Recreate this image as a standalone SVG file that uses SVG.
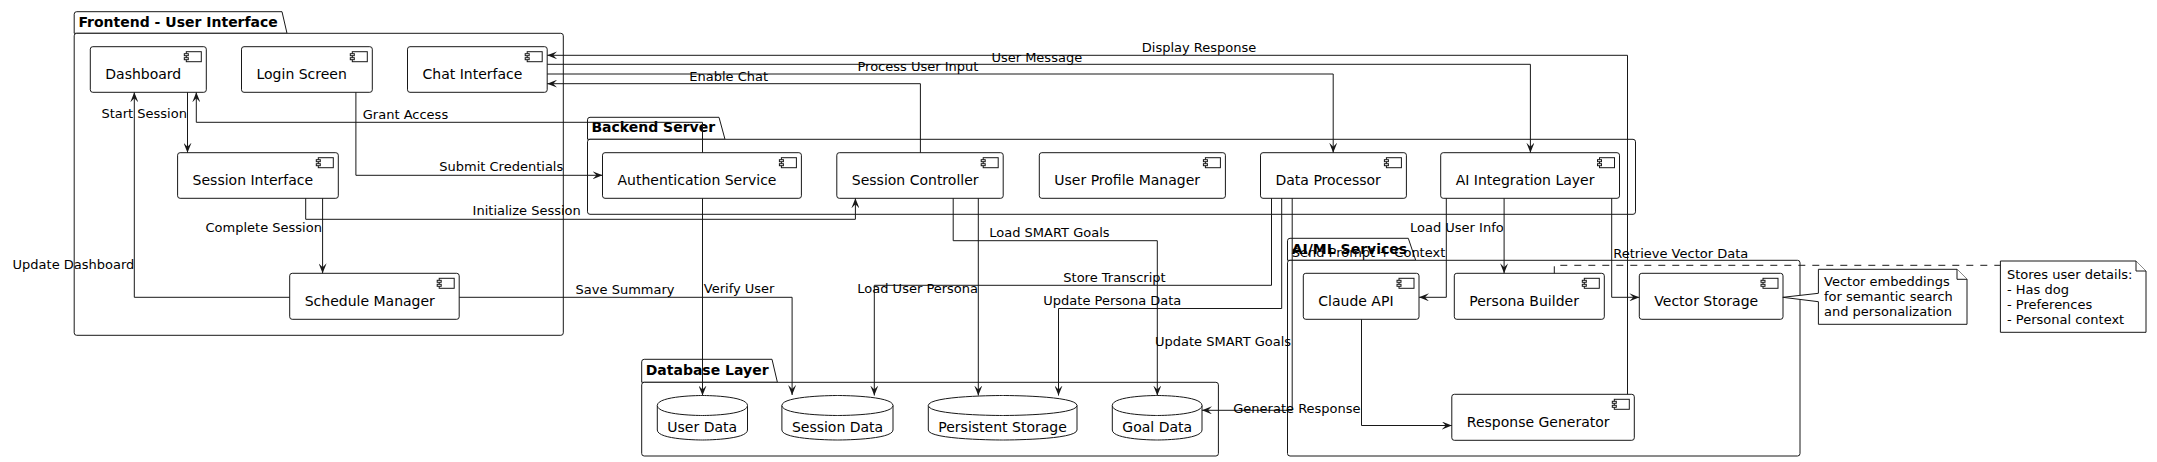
<svg xmlns="http://www.w3.org/2000/svg" xmlns:xlink="http://www.w3.org/1999/xlink" width="2157" height="462" viewBox="0 0 2157 462">
<style>
.pkg{fill:#ffffff;stroke:#181818;stroke-width:1}
.pt{font-family:"DejaVu Sans",sans-serif;font-size:14px;font-weight:bold;fill:#000}
.comp{fill:#ffffff;stroke:#181818;stroke-width:1}
.ct{font-family:"DejaVu Sans",sans-serif;font-size:14px;fill:#000}
.ico{fill:#ffffff;stroke:#181818;stroke-width:1}
.db{fill:#ffffff;stroke:#181818;stroke-width:1}
.ln{fill:none;stroke:#181818;stroke-width:1;marker-end:url(#arr)}
.lt{font-family:"DejaVu Sans",sans-serif;font-size:13px;fill:#000}
.note{fill:#ffffff;stroke:#181818;stroke-width:1}
.nt{font-family:"DejaVu Sans",sans-serif;font-size:13px;fill:#000}
.dash{fill:none;stroke:#181818;stroke-width:1;stroke-dasharray:7,7}
</style>
<defs>
<marker id="arr" markerUnits="userSpaceOnUse" markerWidth="10" markerHeight="8" viewBox="0 0 10 8" refX="10" refY="4" orient="auto">
<path d="M0,0 L10,4 L0,8 L4,4 Z" fill="#181818"/>
</marker>
<g id="ci" class="ico"><rect x="2" y="0" width="15" height="10"/><rect x="0" y="2" width="4" height="2"/><rect x="0" y="6" width="4" height="2"/></g>
</defs>
<rect width="2157" height="462" fill="#ffffff"/>

<!-- Packages -->
<g id="pkg-frontend">
<path class="pkg" d="M74.2,33.3 V14.2 Q74.2,11.7 76.7,11.7 H282 L287,33.3 Z"/>
<rect class="pkg" x="74.2" y="33.3" width="489.1" height="302" rx="2.5"/>
<text class="pt" x="78.4" y="26.5">Frontend - User Interface</text>
</g>
<g id="pkg-backend">
<path class="pkg" d="M587.5,139.3 V119.8 Q587.5,117.3 590,117.3 H719 L725,139.3 Z"/>
<rect class="pkg" x="587.5" y="139.3" width="1048" height="75" rx="2.5"/>
<text class="pt" x="591.4" y="132.2">Backend Server</text>
</g>
<g id="pkg-database">
<path class="pkg" d="M641.7,382.3 V361.8 Q641.7,359.3 644.2,359.3 H772 L777.4,382.3 Z"/>
<rect class="pkg" x="641.7" y="382.3" width="576.7" height="73.7" rx="2.5"/>
<text class="pt" x="645.7" y="375">Database Layer</text>
</g>
<g id="pkg-aiml">
<path class="pkg" d="M1287.5,260.3 V240.8 Q1287.5,238.3 1290,238.3 H1408.3 L1415.7,260.3 Z"/>
<rect class="pkg" x="1287.5" y="260.3" width="512.5" height="195.7" rx="2.5"/>
<text class="pt" x="1291.7" y="253.5">AI/ML Services</text>
</g>

<!-- Components -->
<g id="dashboard"><rect class="comp" x="90.3" y="46.7" width="116" height="45.6" rx="2.5"/><use xlink:href="#ci" x="184.3" y="51.7"/><text class="ct" x="105.3" y="79">Dashboard</text></g>
<g id="login-screen"><rect class="comp" x="241.5" y="46.7" width="130.8" height="45.6" rx="2.5"/><use xlink:href="#ci" x="350.3" y="51.7"/><text class="ct" x="256.5" y="79">Login Screen</text></g>
<g id="chat-interface"><rect class="comp" x="407.5" y="46.7" width="139.7" height="45.6" rx="2.5"/><use xlink:href="#ci" x="525.2" y="51.7"/><text class="ct" x="422.5" y="79">Chat Interface</text></g>
<g id="session-interface"><rect class="comp" x="177.6" y="152.7" width="160.7" height="45.6" rx="2.5"/><use xlink:href="#ci" x="316.3" y="157.7"/><text class="ct" x="192.6" y="185">Session Interface</text></g>
<g id="schedule-manager"><rect class="comp" x="289.7" y="273.3" width="169.5" height="46" rx="2.5"/><use xlink:href="#ci" x="437.2" y="278.3"/><text class="ct" x="304.7" y="305.7">Schedule Manager</text></g>

<g id="auth-service"><rect class="comp" x="602.5" y="152.7" width="198.9" height="45.6" rx="2.5"/><use xlink:href="#ci" x="779.4" y="157.7"/><text class="ct" x="617.5" y="185">Authentication Service</text></g>
<g id="session-controller"><rect class="comp" x="836.8" y="152.7" width="166.4" height="45.6" rx="2.5"/><use xlink:href="#ci" x="981.2" y="157.7"/><text class="ct" x="851.8" y="185">Session Controller</text></g>
<g id="user-profile-manager"><rect class="comp" x="1039.3" y="152.7" width="186.1" height="45.6" rx="2.5"/><use xlink:href="#ci" x="1203.4" y="157.7"/><text class="ct" x="1054.3" y="185">User Profile Manager</text></g>
<g id="data-processor"><rect class="comp" x="1260.5" y="152.7" width="145.9" height="45.6" rx="2.5"/><use xlink:href="#ci" x="1384.4" y="157.7"/><text class="ct" x="1275.5" y="185">Data Processor</text></g>
<g id="ai-integration-layer"><rect class="comp" x="1440.7" y="152.7" width="178.8" height="45.6" rx="2.5"/><use xlink:href="#ci" x="1597.5" y="157.7"/><text class="ct" x="1455.7" y="185">AI Integration Layer</text></g>

<g id="claude-api"><rect class="comp" x="1303.3" y="273.3" width="115.7" height="46" rx="2.5"/><use xlink:href="#ci" x="1397" y="278.3"/><text class="ct" x="1318.3" y="305.7">Claude API</text></g>
<g id="persona-builder"><rect class="comp" x="1454.3" y="273.3" width="150" height="46" rx="2.5"/><use xlink:href="#ci" x="1582.3" y="278.3"/><text class="ct" x="1469.3" y="305.7">Persona Builder</text></g>
<g id="vector-storage"><rect class="comp" x="1639.3" y="273.3" width="143.7" height="46" rx="2.5"/><use xlink:href="#ci" x="1761" y="278.3"/><text class="ct" x="1654.3" y="305.7">Vector Storage</text></g>
<g id="response-generator"><rect class="comp" x="1451.8" y="394.3" width="182.5" height="46" rx="2.5"/><use xlink:href="#ci" x="1612.3" y="399.3"/><text class="ct" x="1466.8" y="426.7">Response Generator</text></g>

<!-- Databases -->
<g id="user-data">
<path class="db" d="M657.3,405.5 C657.3,395.5 702.4,395.5 702.4,395.5 C702.4,395.5 747.5,395.5 747.5,405.5 L747.5,430 C747.5,440 702.4,440 702.4,440 C702.4,440 657.3,440 657.3,430 Z"/>
<path class="db" d="M657.3,405.5 C657.3,415.5 702.4,415.5 702.4,415.5 C702.4,415.5 747.5,415.5 747.5,405.5" fill="none"/>
<text class="ct" x="667.3" y="432">User Data</text>
</g>
<g id="session-data">
<path class="db" d="M781.9,405.5 C781.9,395.5 837.5,395.5 837.5,395.5 C837.5,395.5 893,395.5 893,405.5 L893,430 C893,440 837.5,440 837.5,440 C837.5,440 781.9,440 781.9,430 Z"/>
<path class="db" d="M781.9,405.5 C781.9,415.5 837.5,415.5 837.5,415.5 C837.5,415.5 893,415.5 893,405.5" fill="none"/>
<text class="ct" x="791.9" y="432">Session Data</text>
</g>
<g id="persistent-storage">
<path class="db" d="M928.3,405.5 C928.3,395.5 1002.7,395.5 1002.7,395.5 C1002.7,395.5 1077,395.5 1077,405.5 L1077,430 C1077,440 1002.7,440 1002.7,440 C1002.7,440 928.3,440 928.3,430 Z"/>
<path class="db" d="M928.3,405.5 C928.3,415.5 1002.7,415.5 1002.7,415.5 C1002.7,415.5 1077,415.5 1077,405.5" fill="none"/>
<text class="ct" x="938.3" y="432">Persistent Storage</text>
</g>
<g id="goal-data">
<path class="db" d="M1112.3,405.5 C1112.3,395.5 1157.2,395.5 1157.2,395.5 C1157.2,395.5 1202,395.5 1202,405.5 L1202,430 C1202,440 1157.2,440 1157.2,440 C1157.2,440 1112.3,440 1112.3,430 Z"/>
<path class="db" d="M1112.3,405.5 C1112.3,415.5 1157.2,415.5 1157.2,415.5 C1157.2,415.5 1202,415.5 1202,405.5" fill="none"/>
<text class="ct" x="1122.3" y="432">Goal Data</text>
</g>

<!-- Notes -->
<g id="note-vector">
<path class="note" d="M1818.4,269.3 H1957 L1967,279.3 V324.3 H1818.4 V301.7 L1782.8,297.3 L1818.4,293.3 Z"/>
<path class="note" d="M1957,269.3 V279.3 H1967" fill="none"/>
<text class="nt" x="1824" y="286">Vector embeddings</text>
<text class="nt" x="1824" y="301.2">for semantic search</text>
<text class="nt" x="1824" y="316.4">and personalization</text>
</g>
<g id="note-persona">
<path class="note" d="M2000.4,261 H2136 L2146,271 V332.3 H2000.4 Z"/>
<path class="note" d="M2136,261 V271 H2146" fill="none"/>
<text class="nt" x="2007" y="279.3">Stores user details:</text>
<text class="nt" x="2007" y="294.3">- Has dog</text>
<text class="nt" x="2007" y="309.3">- Preferences</text>
<text class="nt" x="2007" y="324.3">- Personal context</text>
</g>

<!-- Connectors -->
<g id="connectors">
<path class="ln" d="M187.5,92.3 V152.7"/>
<path class="ln" d="M289.7,297.3 H134.3 V92.3"/>
<path class="ln" d="M702.5,152.7 V122.3 H196.3 V92.3"/>
<path class="ln" d="M355.9,92.3 V175.3 H602.5"/>
<path class="ln" d="M305.7,198.3 V219.3 H855.4 V198.3"/>
<path class="ln" d="M322.6,198.3 V273.3"/>
<path class="ln" d="M459.2,297.3 H792.1 V395"/>
<path class="ln" d="M1627.5,394.3 V55.3 H547.2"/>
<path class="ln" d="M547.2,64.3 H1530.4 V152.7"/>
<path class="ln" d="M547.2,74 H1333.2 V152.7"/>
<path class="ln" d="M920.4,152.7 V83.7 H547.2"/>
<path class="ln" d="M702.5,198.3 V395.5"/>
<path class="ln" d="M953.2,198.3 V240.7 H1157.3 V395.5"/>
<path class="ln" d="M978.3,198.3 V395.5"/>
<path class="ln" d="M1271.5,198.3 V285.3 H874.3 V395.5"/>
<path class="ln" d="M1281.7,198.3 V308.5 H1058.5 V395.5"/>
<path class="ln" d="M1292.2,198.3 V410.3 H1202"/>
<path class="ln" d="M1446.3,198.3 V297.3 H1419"/>
<path class="ln" d="M1504.1,198.3 V273.3"/>
<path class="ln" d="M1611.7,198.3 V297.3 H1639.3"/>
<path class="ln" d="M1361.5,319.3 V425.5 H1451.8"/>
<path class="dash" d="M1554.3,273.3 V265.3 H2000.4"/>
<text class="lt" x="101.4" y="118">Start Session</text>
<text class="lt" x="12.6" y="269">Update Dashboard</text>
<text class="lt" x="362.8" y="119">Grant Access</text>
<text class="lt" x="439.3" y="171.3">Submit Credentials</text>
<text class="lt" x="472.6" y="215">Initialize Session</text>
<text class="lt" x="205.5" y="232.3">Complete Session</text>
<text class="lt" x="575.6" y="294">Save Summary</text>
<text class="lt" x="1141.8" y="51.7">Display Response</text>
<text class="lt" x="991.4" y="61.5">User Message</text>
<text class="lt" x="857.5" y="71">Process User Input</text>
<text class="lt" x="689.3" y="80.5">Enable Chat</text>
<text class="lt" x="703.8" y="292.7">Verify User</text>
<text class="lt" x="989.3" y="236.7">Load SMART Goals</text>
<text class="lt" x="857.3" y="292.7">Load User Persona</text>
<text class="lt" x="1063.3" y="282">Store Transcript</text>
<text class="lt" x="1043.3" y="305">Update Persona Data</text>
<text class="lt" x="1155" y="346">Update SMART Goals</text>
<text class="lt" x="1291.7" y="256.7">Send Prompt + Context</text>
<text class="lt" x="1410" y="231.7">Load User Info</text>
<text class="lt" x="1613.3" y="258">Retrieve Vector Data</text>
<text class="lt" x="1233.3" y="413.3">Generate Response</text>
</g>
</svg>
